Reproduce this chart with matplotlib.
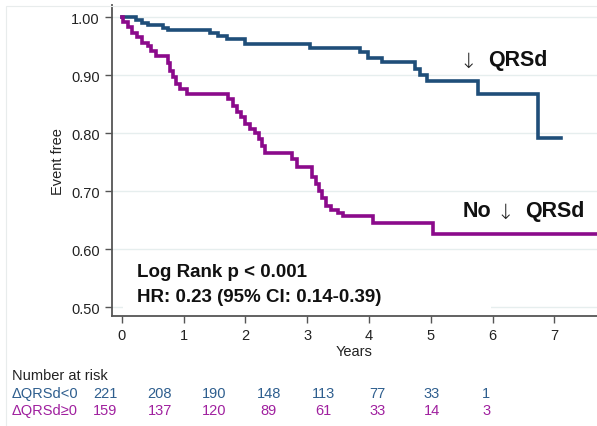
import matplotlib
matplotlib.use("Agg")
import matplotlib.pyplot as plt
from matplotlib.patches import Rectangle

plt.rcParams['font.family'] = ['Liberation Sans', 'DejaVu Sans']

# Kaplan-Meier estimates, event-free survival by group
t_dec = [0, 0.23, 0.33, 0.43, 0.67, 0.75, 1.42, 1.56, 1.70, 2.00, 3.04, 3.85,
         3.98, 4.21, 4.74, 4.82, 4.94, 5.76, 6.73, 7.10]
s_dec = [1.000, 0.994, 0.990, 0.986, 0.981, 0.977, 0.972, 0.968, 0.962, 0.953,
         0.947, 0.939, 0.930, 0.922, 0.911, 0.900, 0.889, 0.868, 0.791, 0.791]

t_nodec = [0, 0.02, 0.10, 0.17, 0.25, 0.32, 0.42, 0.47, 0.55, 0.75, 0.78, 0.82,
           0.88, 0.94, 1.05, 1.72, 1.80, 1.86, 1.93, 2.00, 2.08, 2.16, 2.22,
           2.27, 2.31, 2.76, 2.84, 3.07, 3.14, 3.19, 3.24, 3.30, 3.38, 3.50,
           3.58, 4.07, 5.04, 7.80]
s_nodec = [1.000, 0.991, 0.982, 0.973, 0.965, 0.956, 0.950, 0.942, 0.932, 0.920,
           0.907, 0.896, 0.885, 0.876, 0.867, 0.859, 0.847, 0.836, 0.827, 0.816,
           0.807, 0.800, 0.790, 0.778, 0.766, 0.755, 0.741, 0.724, 0.712, 0.700,
           0.689, 0.675, 0.668, 0.662, 0.657, 0.646, 0.627, 0.627]

years = [0, 1, 2, 3, 4, 5, 6, 7]
yticks = [0.50, 0.60, 0.70, 0.80, 0.90, 1.00]

risk_title = "Number at risk"
risk_labels = ["\u0394QRSd<0", "\u0394QRSd\u22650"]
risk_dec = [221, 208, 190, 148, 113, 77, 33, 1]
risk_nodec = [159, 137, 120, 89, 61, 33, 14, 3]

blue = "#1f4e79"
purple = "#8b0a8b"
blue_txt = "#2e5e8e"
purple_txt = "#a0209f"

W, H = 597, 427
fig = plt.figure(figsize=(W / 100, H / 100), dpi=100)

# faint outer frame of the plot region
fig.patches.append(Rectangle((6 / W, -0.1), 1.2, 1 - 7 / H + 0.1,
                             transform=fig.transFigure, fill=False,
                             edgecolor="#e8ecec", linewidth=0.8))

ax = fig.add_axes([112 / W, 1 - 317 / H, 1 - 112 / W, (317 - 6.4) / H])
ax.set_xlim(-0.16, 7.69)
ax.set_ylim(0.485, 1.02)

for y in yticks:
    ax.axhline(y, color="#e6eeee", linewidth=1.0, zorder=0)

# white panel behind the statistics text
ax.add_patch(Rectangle((0.02, 0.489), 5.95, 0.096, facecolor="white",
                       edgecolor="none", zorder=1))

ax.plot(t_dec, s_dec, drawstyle="steps-post", color=blue, linewidth=2.6,
        solid_joinstyle="miter", zorder=3)
ax.plot(t_nodec, s_nodec, drawstyle="steps-post", color=purple, linewidth=2.6,
        solid_joinstyle="miter", zorder=3)

ax.set_xticks(years)
ax.set_yticks(yticks)
ax.set_yticklabels(["%.2f" % v for v in yticks])
ax.tick_params(axis="both", direction="out", length=5, width=1.0,
               color="#555555", labelsize=10.5, labelcolor="#222222", pad=4)
for side in ["top", "right"]:
    ax.spines[side].set_visible(False)
for side in ["left", "bottom"]:
    ax.spines[side].set_color("#555555")
    ax.spines[side].set_linewidth(1.3)

ax.set_xlabel("Years", fontsize=10.5, color="#222222", labelpad=1)
ax.set_ylabel("Event free", fontsize=10.5, color="#222222", labelpad=4)

# group labels
ax.text(5.60, 0.924, "\u2193", fontsize=15, ha="center", va="center",
        color="#222222", family=["DejaVu Sans"], fontweight="light", zorder=4)
ax.text(5.92, 0.926, "QRSd", fontsize=15.5, fontweight="bold", ha="left",
        va="center", color="#111111", zorder=4)
ax.text(5.52, 0.667, "No", fontsize=15.5, fontweight="bold", ha="left",
        va="center", color="#111111", zorder=4)
ax.text(6.21, 0.665, "\u2193", fontsize=15, ha="center", va="center",
        color="#222222", family=["DejaVu Sans"], fontweight="light", zorder=4)
ax.text(6.52, 0.667, "QRSd", fontsize=15.5, fontweight="bold", ha="left",
        va="center", color="#111111", zorder=4)

ax.text(0.24, 0.562, "Log Rank p < 0.001", fontsize=13.5, fontweight="bold",
        ha="left", va="center", color="#111111", zorder=4)
ax.text(0.24, 0.519, "HR: 0.23 (95% CI: 0.14-0.39)", fontsize=13.5,
        fontweight="bold", ha="left", va="center", color="#111111", zorder=4)

# number-at-risk table
fig.text(12 / W, 1 - 376 / H, risk_title, fontsize=10.5, color="#222222",
         ha="left", va="center")
rows = [(risk_dec, blue_txt, 394), (risk_nodec, purple_txt, 411)]
for label, (counts, col, py) in zip(risk_labels, rows):
    fig.text(12 / W, 1 - py / H, label, fontsize=10.5, color=col,
             ha="left", va="center")
    for i, n in enumerate(counts):
        fig.text((105.5 + 54.4 * i) / W, 1 - py / H, str(n), fontsize=10.5,
                 color=col, ha="center", va="center")

fig.savefig("out.png", dpi=100)
